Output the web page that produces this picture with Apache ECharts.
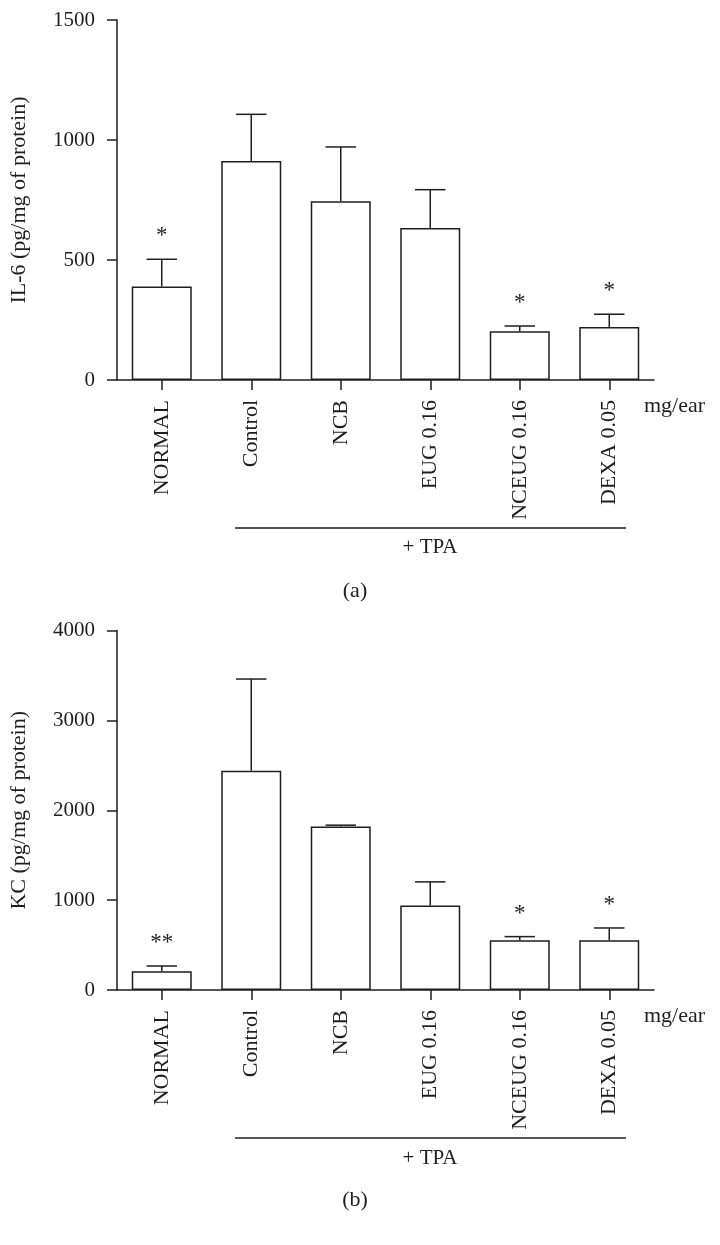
<!DOCTYPE html>
<html>
<head>
<meta charset="utf-8">
<script src="https://cdn.jsdelivr.net/npm/echarts@6/dist/echarts.min.js"></script>
<style>
  html, body { margin: 0; padding: 0; background: #fff; }
  #chart { width: 720px; height: 1245px; }
</style>
</head>
<body>
<div id="chart"></div>
<script>
// ---- data ----
const categories = ['NORMAL', 'Control', 'NCB', 'EUG 0.16', 'NCEUG 0.16', 'DEXA 0.05'];

const il6Mean = [390, 912, 745, 633, 203, 221];
const il6ErrTop = [503, 1107, 971, 793, 225, 274];
const il6Sig = ['*', '', '', '', '*', '*'];

const kcMean = [208, 2439, 1818, 939, 553, 553];
const kcErrTop = [267, 3460, 1834, 1203, 594, 690];
const kcSig = ['**', '', '', '', '*', '*'];

const il6AxisMax = 1500, il6AxisStep = 500;
const kcAxisMax = 4000, kcAxisStep = 1000;

const il6Name = 'IL-6 (pg/mg of protein)';
const kcName = 'KC (pg/mg of protein)';
const unitLabel = 'mg/ear';
const groupLabel = '+ TPA';
const panelLabels = ['(a)', '(b)'];

// ---- styling ----
const FONT = '"Liberation Serif", "Times New Roman", serif';
const INK = '#1e1e1e';
const LW = 1.5;

function errorData(mean, top) {
  return mean.map((m, i) => [i, m, top[i]]);
}

function errRender(params, api) {
  const i = api.value(0);
  const m = api.value(1);
  const t = api.value(2);
  const p0 = api.coord([i, m]);
  const p1 = api.coord([i, t]);
  const bw = api.size([1, 0])[0];
  const hw = bw * 0.17;
  return {
    type: 'group',
    children: [
      { type: 'line', shape: { x1: p0[0], y1: p0[1], x2: p1[0], y2: p1[1] },
        style: { stroke: INK, lineWidth: LW } },
      { type: 'line', shape: { x1: p1[0] - hw, y1: p1[1], x2: p1[0] + hw, y2: p1[1] },
        style: { stroke: INK, lineWidth: LW } }
    ]
  };
}

function starRender(sigArr) {
  return function (params, api) {
    const i = api.value(0);
    const t = api.value(2);
    const p1 = api.coord([i, t]);
    const s = sigArr[params.dataIndex];
    if (!s) return null;
    return {
      type: 'text',
      style: {
        text: s, x: p1[0], y: p1[1] - 23,
        align: 'center', verticalAlign: 'middle',
        font: '23px ' + FONT, fill: INK
      }
    };
  };
}

function makeYAxis(gridIndex, max, step, name) {
  return {
    type: 'value', gridIndex: gridIndex, min: 0, max: max, interval: step,
    name: name, nameLocation: 'middle', nameGap: 87, nameRotate: 90,
    nameTextStyle: { fontFamily: FONT, fontSize: 22, color: INK },
    axisLine: { show: true, lineStyle: { color: INK, width: LW } },
    axisTick: { show: true, length: 10, lineStyle: { color: INK, width: LW } },
    axisLabel: { fontFamily: FONT, fontSize: 21, color: INK, margin: 22,
      formatter: function (v) { return String(v); } },
    splitLine: { show: false }
  };
}

function makeXAxis(gridIndex) {
  return {
    type: 'category', gridIndex: gridIndex, data: categories,
    axisLine: { show: true, lineStyle: { color: INK, width: LW } },
    axisTick: { show: true, alignWithLabel: true, length: 10, lineStyle: { color: INK, width: LW } },
    axisLabel: { rotate: 90, interval: 0, margin: 20, fontFamily: FONT, fontSize: 22, color: INK }
  };
}

function barSeries(idx, data) {
  return {
    type: 'bar', xAxisIndex: idx, yAxisIndex: idx, data: data, barWidth: 60,
    itemStyle: { color: '#ffffff', borderColor: INK, borderWidth: LW },
    silent: true, animation: false
  };
}

const chart = echarts.init(document.getElementById('chart'), null, { renderer: 'canvas' });

const option = {
  backgroundColor: '#ffffff',
  animation: false,
  grid: [
    { left: 114, top: 20, width: 540, height: 360 },
    { left: 114, top: 630.5, width: 540, height: 359.5 }
  ],
  xAxis: [makeXAxis(0), makeXAxis(1)],
  yAxis: [
    makeYAxis(0, il6AxisMax, il6AxisStep, il6Name),
    makeYAxis(1, kcAxisMax, kcAxisStep, kcName)
  ],
  series: [
    barSeries(0, il6Mean),
    { type: 'custom', xAxisIndex: 0, yAxisIndex: 0, renderItem: errRender,
      data: errorData(il6Mean, il6ErrTop), encode: { x: 0, y: [1, 2] }, silent: true },
    { type: 'custom', xAxisIndex: 0, yAxisIndex: 0, renderItem: starRender(il6Sig),
      data: errorData(il6Mean, il6ErrTop), encode: { x: 0, y: [1, 2] }, silent: true },
    barSeries(1, kcMean),
    { type: 'custom', xAxisIndex: 1, yAxisIndex: 1, renderItem: errRender,
      data: errorData(kcMean, kcErrTop), encode: { x: 0, y: [1, 2] }, silent: true },
    { type: 'custom', xAxisIndex: 1, yAxisIndex: 1, renderItem: starRender(kcSig),
      data: errorData(kcMean, kcErrTop), encode: { x: 0, y: [1, 2] }, silent: true }
  ],
  graphic: [
    // panel (a)
    { type: 'text', left: 644, top: 395, style: { text: unitLabel, font: '22px ' + FONT, fill: INK } },
    { type: 'line', shape: { x1: 235, y1: 528, x2: 626, y2: 528 }, style: { stroke: INK, lineWidth: LW } },
    { type: 'text', x: 430, y: 547, style: { text: groupLabel, font: '21px ' + FONT, fill: INK, align: 'center', verticalAlign: 'middle' } },
    { type: 'text', x: 355, y: 591, style: { text: panelLabels[0], font: '22px ' + FONT, fill: INK, align: 'center', verticalAlign: 'middle' } },
    // panel (b)
    { type: 'text', left: 644, top: 1005, style: { text: unitLabel, font: '22px ' + FONT, fill: INK } },
    { type: 'line', shape: { x1: 235, y1: 1138, x2: 626, y2: 1138 }, style: { stroke: INK, lineWidth: LW } },
    { type: 'text', x: 430, y: 1158, style: { text: groupLabel, font: '21px ' + FONT, fill: INK, align: 'center', verticalAlign: 'middle' } },
    { type: 'text', x: 355, y: 1200, style: { text: panelLabels[1], font: '22px ' + FONT, fill: INK, align: 'center', verticalAlign: 'middle' } }
  ]
};

chart.setOption(option);
</script>
</body>
</html>
